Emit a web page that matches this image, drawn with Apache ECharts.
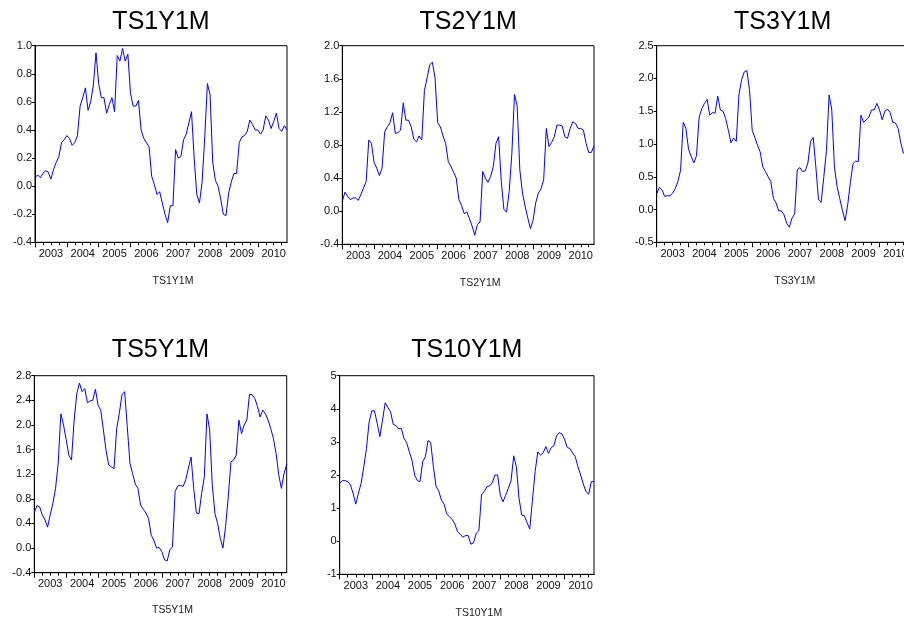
<!DOCTYPE html>
<html>
<head>
<meta charset="utf-8">
<title>TS1Y1M – TS10Y1M</title>
<script src="https://cdn.jsdelivr.net/npm/echarts@6/dist/echarts.min.js"></script>
<style>
  html, body { margin: 0; padding: 0; background: #fff; }
  #chart { width: 904px; height: 621px; }
</style>
</head>
<body>
<div id="chart"></div>
<script>
// Monthly observations, 2003M01 – 2010M12
const years = [2003, 2004, 2005, 2006, 2007, 2008, 2009, 2010];
const months = [];
years.forEach(y => { for (let m = 1; m <= 12; m++) months.push(y + 'M' + String(m).padStart(2, '0')); });

// Term spreads (n-year minus 1-month), percentage points
const ts1y1m = [
  0.06, 0.08, 0.06, 0.09, 0.11, 0.10, 0.05, 0.12, 0.17, 0.21, 0.31, 0.33,
  0.36, 0.34, 0.29, 0.31, 0.36, 0.57, 0.63, 0.70, 0.54, 0.60, 0.72, 0.95,
  0.73, 0.63, 0.63, 0.52, 0.58, 0.63, 0.53, 0.93, 0.89, 0.98, 0.89, 0.94,
  0.66, 0.57, 0.57, 0.61, 0.40, 0.34, 0.31, 0.28, 0.07, 0.01, -0.06, -0.04,
  -0.12, -0.20, -0.26, -0.14, -0.14, 0.26, 0.20, 0.21, 0.33, 0.37, 0.45, 0.53,
  0.20, -0.06, -0.12, 0.03, 0.35, 0.73, 0.65, 0.17, 0.04, 0.00, -0.09, -0.20,
  -0.21, -0.05, 0.03, 0.09, 0.09, 0.31, 0.35, 0.36, 0.39, 0.47, 0.44, 0.40,
  0.40, 0.37, 0.40, 0.50, 0.47, 0.41, 0.46, 0.52, 0.41, 0.39, 0.43, 0.40
];
const ts2y1m = [
  0.12, 0.23, 0.18, 0.14, 0.16, 0.16, 0.13, 0.20, 0.28, 0.36, 0.86, 0.82,
  0.59, 0.52, 0.43, 0.52, 0.96, 1.02, 1.07, 1.19, 0.94, 0.95, 0.98, 1.31,
  1.10, 1.10, 1.02, 0.87, 0.84, 0.91, 0.86, 1.46, 1.61, 1.77, 1.80, 1.61,
  1.07, 1.02, 0.91, 0.82, 0.60, 0.54, 0.47, 0.40, 0.14, 0.07, -0.03, -0.01,
  -0.09, -0.18, -0.29, -0.16, -0.13, 0.48, 0.40, 0.35, 0.42, 0.54, 0.82, 0.90,
  0.36, 0.02, -0.01, 0.24, 0.70, 1.41, 1.27, 0.50, 0.22, 0.06, -0.08, -0.21,
  -0.11, 0.10, 0.22, 0.27, 0.38, 1.00, 0.78, 0.83, 0.90, 1.04, 1.04, 1.03,
  0.90, 0.88, 1.00, 1.08, 1.06, 1.00, 1.00, 0.98, 0.82, 0.71, 0.71, 0.79
];
const ts3y1m = [
  0.24, 0.34, 0.30, 0.20, 0.21, 0.21, 0.25, 0.32, 0.43, 0.60, 1.33, 1.24,
  0.92, 0.81, 0.71, 0.82, 1.41, 1.54, 1.62, 1.68, 1.44, 1.48, 1.47, 1.73,
  1.52, 1.50, 1.39, 1.21, 1.02, 1.09, 1.04, 1.75, 1.98, 2.10, 2.12, 1.82,
  1.21, 1.10, 0.98, 0.88, 0.65, 0.58, 0.50, 0.43, 0.17, 0.10, -0.02, -0.02,
  -0.08, -0.21, -0.27, -0.13, -0.07, 0.61, 0.64, 0.58, 0.59, 0.71, 1.04, 1.10,
  0.65, 0.15, 0.11, 0.50, 0.90, 1.75, 1.52, 0.65, 0.35, 0.17, -0.01, -0.17,
  0.07, 0.41, 0.70, 0.74, 0.73, 1.44, 1.33, 1.37, 1.41, 1.52, 1.52, 1.62,
  1.52, 1.37, 1.50, 1.53, 1.48, 1.33, 1.32, 1.24, 1.02, 0.86, 0.82, 0.88
];
const ts5y1m = [
  0.58, 0.69, 0.67, 0.54, 0.46, 0.34, 0.54, 0.73, 0.97, 1.38, 2.18, 2.00,
  1.76, 1.51, 1.43, 2.08, 2.51, 2.68, 2.54, 2.59, 2.36, 2.39, 2.40, 2.58,
  2.32, 2.24, 1.92, 1.59, 1.35, 1.32, 1.29, 1.94, 2.19, 2.49, 2.54, 1.97,
  1.38, 1.21, 1.04, 0.97, 0.70, 0.63, 0.57, 0.48, 0.21, 0.13, 0.00, 0.01,
  -0.06, -0.19, -0.21, -0.03, 0.02, 0.92, 1.01, 1.02, 1.00, 1.11, 1.30, 1.48,
  0.97, 0.57, 0.56, 0.89, 1.16, 2.18, 1.92, 1.02, 0.56, 0.40, 0.16, 0.00,
  0.35, 0.83, 1.40, 1.43, 1.51, 2.08, 1.86, 2.00, 2.08, 2.50, 2.49, 2.43,
  2.30, 2.13, 2.24, 2.18, 2.08, 1.94, 1.78, 1.54, 1.19, 0.97, 1.21, 1.36
];
const ts10y1m = [
  1.75, 1.83, 1.83, 1.80, 1.70, 1.45, 1.12, 1.45, 1.75, 2.25, 2.80, 3.61,
  3.94, 3.94, 3.56, 3.16, 3.66, 4.18, 4.04, 3.91, 3.53, 3.49, 3.40, 3.41,
  3.11, 2.98, 2.70, 2.45, 2.00, 1.83, 1.80, 2.40, 2.55, 3.04, 2.98, 2.25,
  1.65, 1.52, 1.24, 1.12, 0.82, 0.74, 0.66, 0.52, 0.29, 0.21, 0.12, 0.17,
  0.17, -0.09, -0.05, 0.24, 0.32, 1.42, 1.50, 1.65, 1.67, 1.77, 2.00, 2.00,
  1.39, 1.19, 1.39, 1.60, 1.82, 2.58, 2.25, 1.29, 0.79, 0.77, 0.56, 0.37,
  1.24, 2.10, 2.70, 2.60, 2.67, 2.86, 2.65, 2.83, 2.88, 3.18, 3.28, 3.24,
  3.08, 2.83, 2.80, 2.67, 2.55, 2.25, 2.00, 1.73, 1.50, 1.42, 1.80, 1.80
];

// Panel names and value-axis ranges
const names = ['TS1Y1M', 'TS2Y1M', 'TS3Y1M', 'TS5Y1M', 'TS10Y1M'];
const seriesData = [ts1y1m, ts2y1m, ts3y1m, ts5y1m, ts10y1m];
const yMin = [-0.4, -0.4, -0.5, -0.4, -1];
const yMax = [1.0, 2.0, 2.5, 2.8, 5];
const yStep = [0.2, 0.4, 0.5, 0.4, 1];
const yDecimals = [1, 1, 1, 1, 0];

// Plot-area placement of each panel (px)
const layout = [
  { left: 35.0, top: 45.7, width: 252.0, height: 196.6, capY: 281.5 },
  { left: 342.3, top: 45.7, width: 251.7, height: 198.6, capY: 283.5 },
  { left: 656.7, top: 45.7, width: 252.0, height: 196.6, capY: 281.0 },
  { left: 34.3, top: 375.7, width: 252.4, height: 197.0, capY: 610.5 },
  { left: 339.7, top: 375.7, width: 254.3, height: 198.6, capY: 613.0 }
];
const titleY = [22, 22, 22, 350, 350];

const FONT = '"Liberation Sans", Arial, Helvetica, sans-serif';

const grid = [], xAxis = [], yAxis = [], series = [], graphic = [];

layout.forEach((g, i) => {
  grid.push({
    left: g.left, top: g.top, width: g.width, height: g.height,
    outerBoundsMode: 'none', containLabel: false,
    show: true, borderColor: '#000', borderWidth: 1, backgroundColor: '#fff'
  });
  // quarterly ticks (short) with the axis line
  xAxis.push({
    type: 'category', gridIndex: i, data: months, boundaryGap: false, position: 'bottom',
    axisLine: { show: true, onZero: false, lineStyle: { color: '#000', width: 1 } },
    axisTick: { show: true, length: 3, interval: (idx) => idx % 3 === 0, lineStyle: { color: '#000', width: 1 } },
    axisLabel: { show: false },
    splitLine: { show: false },
    z: 3
  });
  // year ticks (long) and year labels
  xAxis.push({
    type: 'category', gridIndex: i, data: months, boundaryGap: false, position: 'bottom',
    axisLine: { show: true, onZero: false, lineStyle: { color: '#000', width: 1 } },
    axisTick: { show: true, length: 5, interval: (idx) => idx % 12 === 0, lineStyle: { color: '#000', width: 1 } },
    axisLabel: {
      show: true, interval: (idx) => idx % 12 === 6,
      formatter: (v) => v.slice(0, 4),
      fontFamily: FONT, fontSize: 11, color: '#111', margin: 6
    },
    splitLine: { show: false },
    z: 3
  });
  yAxis.push({
    type: 'value', gridIndex: i,
    min: yMin[i], max: yMax[i], interval: yStep[i],
    axisLine: { show: true, onZero: false, lineStyle: { color: '#000', width: 1 } },
    axisTick: { show: true, length: 3, lineStyle: { color: '#000' } },
    axisLabel: {
      fontFamily: FONT, fontSize: 11, color: '#111', margin: 3,
      formatter: (v) => Number(v).toFixed(yDecimals[i])
    },
    splitLine: { show: false }
  });
  series.push({
    type: 'line', xAxisIndex: i * 2 + 1, yAxisIndex: i,
    data: seriesData[i], symbol: 'none', silent: true,
    lineStyle: { color: '#0000ff', width: 1 },
    animation: false
  });
  // panel heading
  graphic.push({
    type: 'text', silent: true,
    x: g.left + g.width / 2, y: titleY[i],
    style: {
      text: names[i], fontFamily: FONT, fontSize: 25, fill: '#000',
      textAlign: 'center', textVerticalAlign: 'middle'
    }
  });
  // axis caption beneath the panel
  graphic.push({
    type: 'text', silent: true,
    x: g.left + g.width / 2 + 12, y: g.capY,
    style: {
      text: names[i], fontFamily: FONT, fontSize: 10.5, fill: '#222',
      textAlign: 'center', textVerticalAlign: 'middle'
    }
  });
});

const chart = echarts.init(document.getElementById('chart'), null, { renderer: 'canvas' });
chart.setOption({
  backgroundColor: '#fff',
  animation: false,
  grid, xAxis, yAxis, series, graphic
});
</script>
</body>
</html>
